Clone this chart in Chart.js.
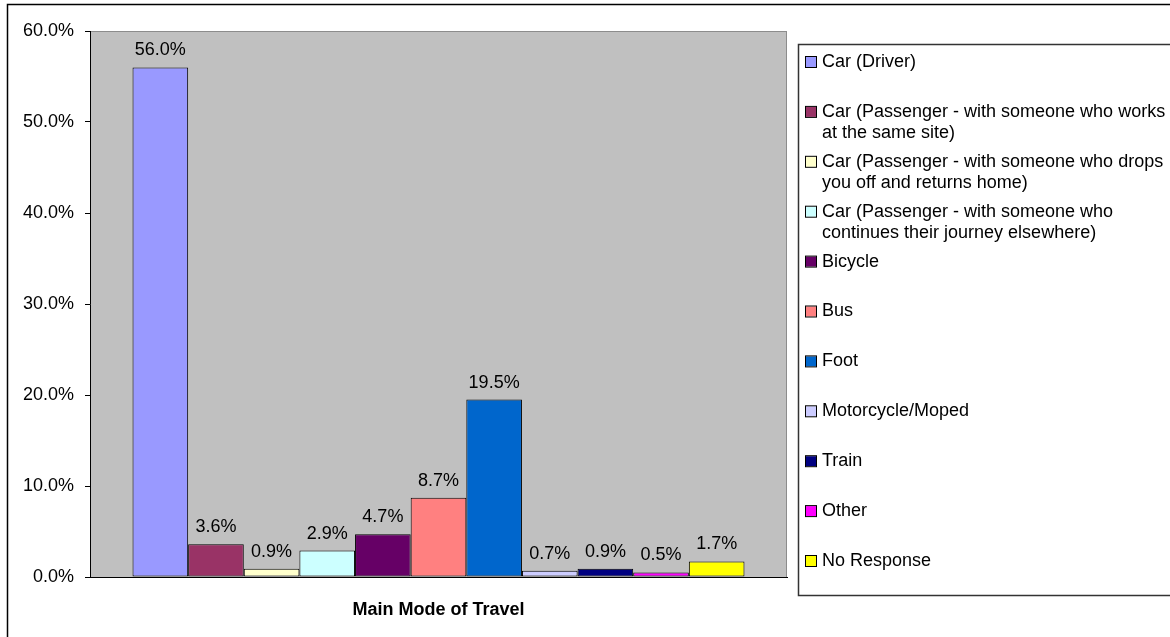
<!DOCTYPE html>
<html>
<head>
<meta charset="utf-8">
<script src="https://cdn.jsdelivr.net/npm/chart.js@4"></script>
<style>
  body { margin: 0; background: #fff; }
  #travelChart { display: block; }
</style>
</head>
<body>
<canvas id="travelChart" width="1170" height="637"></canvas>
<script>
const modes = [
  "Car (Driver)",
  "Car (Passenger - with someone who works at the same site)",
  "Car (Passenger - with someone who drops you off and returns home)",
  "Car (Passenger - with someone who continues their journey elsewhere)",
  "Bicycle",
  "Bus",
  "Foot",
  "Motorcycle/Moped",
  "Train",
  "Other",
  "No Response"
];
const shares = [56.0, 3.6, 0.9, 2.9, 4.7, 8.7, 19.5, 0.7, 0.9, 0.5, 1.7];
const barColors = [
  "#9999ff", "#993366", "#ffffcc", "#ccffff", "#660066", "#ff8080",
  "#0066cc", "#ccccff", "#000080", "#ff00ff", "#ffff00"
];
const axisTitle = "Main Mode of Travel";
const yMax = 60;
const yStep = 10;

const FONT = "'Liberation Sans', Arial, sans-serif";
Chart.defaults.font.family = FONT;
Chart.defaults.font.size = 18;
Chart.defaults.color = "#000";

/* grey plot area + outer frame */
const backdrop = {
  id: "backdrop",
  beforeDraw(chart) {
    const { ctx, chartArea: a } = chart;
    ctx.save();
    ctx.strokeStyle = "#000";
    ctx.lineWidth = 1.5;
    ctx.strokeRect(7.5, 4.5, chart.width + 10, chart.height + 10);
    ctx.fillStyle = "#c0c0c0";
    ctx.fillRect(a.left, a.top, a.right - a.left, a.bottom - a.top);
    ctx.strokeStyle = "#8c8c8c";
    ctx.lineWidth = 1;
    ctx.strokeRect(a.left + 0.5, a.top + 0.5, a.right - a.left - 1, a.bottom - a.top);
    ctx.restore();
  }
};

/* value labels above each bar */
const valueLabels = {
  id: "valueLabels",
  afterDatasetsDraw(chart) {
    const ctx = chart.ctx;
    ctx.save();
    ctx.font = "18px " + FONT;
    ctx.fillStyle = "#000";
    ctx.textAlign = "center";
    ctx.textBaseline = "middle";
    chart.data.datasets.forEach((ds, i) => {
      const bar = chart.getDatasetMeta(i).data[0];
      ctx.fillText(ds.data[0].toFixed(1) + "%", bar.x, bar.y - 17);
    });
    ctx.restore();
  }
};

/* boxed legend on the right, wrapped like the Excel one */
const sideLegend = {
  id: "sideLegend",
  afterDraw(chart) {
    const ctx = chart.ctx;
    ctx.save();
    ctx.strokeStyle = "#333";
    ctx.lineWidth = 1.5;
    ctx.strokeRect(798.5, 44.5, 400, 551);
    ctx.font = "18px " + FONT;
    ctx.textBaseline = "middle";
    ctx.textAlign = "left";
    const maxW = 346;
    chart.data.datasets.forEach((ds, i) => {
      const y = 62 + i * 49.9;
      ctx.fillStyle = ds.backgroundColor;
      ctx.fillRect(806, y - 5, 10, 10);
      ctx.strokeStyle = "#000";
      ctx.lineWidth = 1;
      ctx.strokeRect(805.5, y - 5.5, 11, 11);

      const words = ds.label.split(" ");
      const lines = [];
      let line = "";
      words.forEach(w => {
        const test = line ? line + " " + w : w;
        if (line && ctx.measureText(test).width > maxW) {
          lines.push(line);
          line = w;
        } else {
          line = test;
        }
      });
      lines.push(line);
      ctx.fillStyle = "#000";
      lines.forEach((t, k) => ctx.fillText(t, 822, y + k * 21.5));
    });
    ctx.restore();
  }
};

new Chart(document.getElementById("travelChart"), {
  type: "bar",
  data: {
    labels: [""],
    datasets: modes.map((m, i) => ({
      label: m,
      data: [shares[i]],
      backgroundColor: barColors[i],
      borderColor: "#000",
      borderWidth: 1,
      borderSkipped: false
    }))
  },
  options: {
    responsive: false,
    animation: false,
    devicePixelRatio: 1,
    layout: { padding: { top: 31, right: 383, left: 0, bottom: 0 } },
    datasets: {
      bar: { categoryPercentage: 0.878, barPercentage: 1 }
    },
    plugins: {
      legend: { display: false },
      tooltip: { enabled: false }
    },
    scales: {
      x: {
        grid: { display: false },
        border: { display: true, color: "#000", width: 1 },
        ticks: { display: false },
        title: {
          display: true,
          text: axisTitle,
          font: { size: 18, weight: "bold" },
          padding: { top: 0, bottom: 16 }
        },
        afterFit(scale) { scale.height = 60; }
      },
      y: {
        min: 0,
        max: yMax,
        grid: {
          display: true,
          drawOnChartArea: false,
          drawTicks: true,
          tickLength: 5,
          color: "#000"
        },
        border: { display: true, color: "#000", width: 1 },
        ticks: {
          stepSize: yStep,
          padding: 11,
          callback: v => v.toFixed(1) + "%"
        },
        afterFit(scale) { scale.width = 90; }
      }
    }
  },
  plugins: [backdrop, valueLabels, sideLegend]
});
</script>
</body>
</html>
